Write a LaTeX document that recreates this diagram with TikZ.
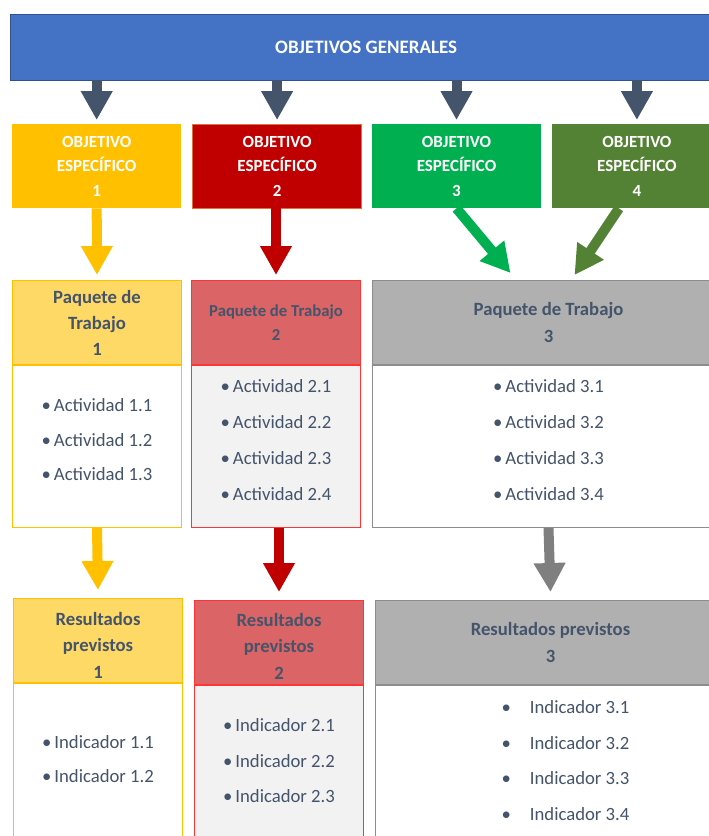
\documentclass[tikz,border=0pt]{standalone}
\usepackage{fontspec}
\setmainfont{Carlito}
\usetikzlibrary{arrows.meta,positioning}
\definecolor{ogblue}{HTML}{4472C4}
\definecolor{ogblueline}{HTML}{2F528F}
\definecolor{ogslate}{HTML}{44546A}
\definecolor{oeyellow}{HTML}{FFC000}
\definecolor{oered}{HTML}{C00000}
\definecolor{oeredline}{HTML}{E0703A}
\definecolor{oegreen}{HTML}{00B050}
\definecolor{oeolive}{HTML}{548235}
\definecolor{ptyellow}{HTML}{FFD966}
\definecolor{ptred}{HTML}{DA6466}
\definecolor{ptredline}{HTML}{FF3535}
\definecolor{ptgrey}{HTML}{B0B0B0}
\definecolor{ptgreyline}{HTML}{8C8C8C}
\definecolor{ptlight}{HTML}{F2F2F2}
\definecolor{ptarrow}{HTML}{7F7F7F}
\tikzstyle{blockarrow} = [line width=10pt,-{Triangle[width=30pt,length=29pt]}]
\tikzstyle{especifico} = [rectangle, minimum width=169pt, minimum height=84pt, inner sep=0pt, align=center, text=white, font=\bfseries\fontsize{17}{24.5}\selectfont]
\tikzstyle{cabecera} = [rectangle, minimum width=169pt, minimum height=84pt, inner sep=0pt, align=center, text=ogslate, font=\bfseries\fontsize{18.7}{26}\selectfont, line width=1pt]
\tikzstyle{cuerpo} = [rectangle, minimum width=169pt, inner sep=0pt, align=center, text=ogslate, text depth=13pt, font=\fontsize{18.7}{34.5}\selectfont, line width=1pt]

\begin{document}
\begin{tikzpicture}[x=1pt,y=-1pt]
\useasboundingbox (0,0) rectangle (709,836);
\clip (0,0) rectangle (709,836);
% Objetivos
\node (generales) [anchor=north west, minimum width=712pt, minimum height=66pt, inner sep=0pt, fill=ogblue, draw=ogblueline, text=white, font=\bfseries\fontsize{19}{22}\selectfont] at (10,14) {OBJETIVOS GENERALES};
\node (oe1) [especifico, anchor=north west, fill=oeyellow] at (12,124) {OBJETIVO\\ESPECÍFICO\\1};
\node (oe2) [especifico, right=11pt of oe1, fill=oered, draw=oeredline] {OBJETIVO\\ESPECÍFICO\\2};
\node (oe3) [especifico, right=10pt of oe2, fill=oegreen] {OBJETIVO\\ESPECÍFICO\\3};
\node (oe4) [especifico, right=11pt of oe3, fill=oeolive] {OBJETIVO\\ESPECÍFICO\\4};

\foreach \oe in {oe1,oe2,oe3,oe4}
  \draw[blockarrow, ogslate] (generales.south -| \oe.north) -- ([yshift=4pt]\oe.north);

% Paquetes de trabajo
\node (pt1head) [cabecera, anchor=north west, fill=ptyellow, draw=oeyellow] at (12,280) {Paquete de\\Trabajo\\1};
\node (pt1body) [cuerpo, below=0pt of pt1head, minimum height=162pt, fill=white, draw=oeyellow] {•\hspace{3pt}Actividad 1.1\\•\hspace{3pt}Actividad 1.2\\•\hspace{3pt}Actividad 1.3};
\node (pt2head) [cabecera, right=9pt of pt1head, fill=ptred, draw=ptredline, font=\bfseries\fontsize{16.7}{24}\selectfont] {Paquete de Trabajo\\2};
\node (pt2body) [cuerpo, below=0pt of pt2head, minimum height=162pt, fill=ptlight, draw=ptredline, font=\fontsize{18.7}{35.7}\selectfont] {•\hspace{3pt}Actividad 2.1\\•\hspace{3pt}Actividad 2.2\\•\hspace{3pt}Actividad 2.3\\•\hspace{3pt}Actividad 2.4};
\node (pt3head) [cabecera, right=11pt of pt2head, minimum width=352pt, fill=ptgrey, draw=ptgreyline, font=\bfseries\fontsize{18.7}{27}\selectfont] {Paquete de Trabajo\\3};
\node (pt3body) [cuerpo, below=0pt of pt3head, minimum width=352pt, minimum height=162pt, fill=white, draw=ptgreyline, font=\fontsize{18.7}{35.7}\selectfont] {•\hspace{3pt}Actividad 3.1\\•\hspace{3pt}Actividad 3.2\\•\hspace{3pt}Actividad 3.3\\•\hspace{3pt}Actividad 3.4};

\draw[blockarrow, oeyellow] (oe1.south) -- ([yshift=5pt]pt1head.north);
\draw[blockarrow, oered] (oe2.south -| pt2head.north) -- ([yshift=5pt]pt2head.north);
\draw[blockarrow, oegreen] (oe3.south) -- ([xshift=-38pt,yshift=7pt]pt3head.north);
\draw[blockarrow, oeolive] ([xshift=-18pt]oe4.south) -- ([xshift=26pt,yshift=5pt]pt3head.north);

% Resultados previstos
\node (r1head) [cabecera, anchor=north west, fill=ptyellow, draw=oeyellow, text height=75pt, text depth=0pt, font=\bfseries\fontsize{18.7}{26.5}\selectfont] at (13,598) {Resultados\\previstos\\1};
\node (r1body) [cuerpo, below=0pt of r1head, minimum height=163pt, fill=white, draw=oeyellow, font=\fontsize{18.7}{34}\selectfont] {•\hspace{3pt}Indicador 1.1\\•\hspace{3pt}Indicador 1.2};
\node (r2head) [cabecera, right=11pt of r1head, yshift=-2pt, fill=ptred, draw=ptredline, text height=73pt, text depth=0pt, font=\bfseries\fontsize{18.7}{26.5}\selectfont] {Resultados\\previstos\\2};
\node (r2body) [cuerpo, below=0pt of r2head, minimum height=163pt, fill=ptlight, draw=ptredline, font=\fontsize{18.7}{35.5}\selectfont] {•\hspace{3pt}Indicador 2.1\\•\hspace{3pt}Indicador 2.2\\•\hspace{3pt}Indicador 2.3};
\node (r3head) [cabecera, right=11pt of r2head, minimum width=350pt, fill=ptgrey, draw=ptgreyline, font=\bfseries\fontsize{18.7}{27}\selectfont] {Resultados previstos\\3};
\node (r3body) [cuerpo, below=0pt of r3head, minimum width=350pt, minimum height=163pt, fill=white, draw=ptgreyline, font=\fontsize{18.7}{35.7}\selectfont] {\hspace*{30pt}•\hspace{19pt}Indicador 3.1\\\hspace*{30pt}•\hspace{19pt}Indicador 3.2\\\hspace*{30pt}•\hspace{19pt}Indicador 3.3\\\hspace*{30pt}•\hspace{19pt}Indicador 3.4};

\draw[blockarrow, oeyellow] (pt1body.south) -- ([yshift=8pt]r1head.north);
\draw[blockarrow, oered] (pt2body.south -| r2head.north) -- ([yshift=8pt]r2head.north);
\draw[blockarrow, ptarrow] (pt3body.south) -- ([yshift=8pt]r3head.north);
\end{tikzpicture}
\end{document}
